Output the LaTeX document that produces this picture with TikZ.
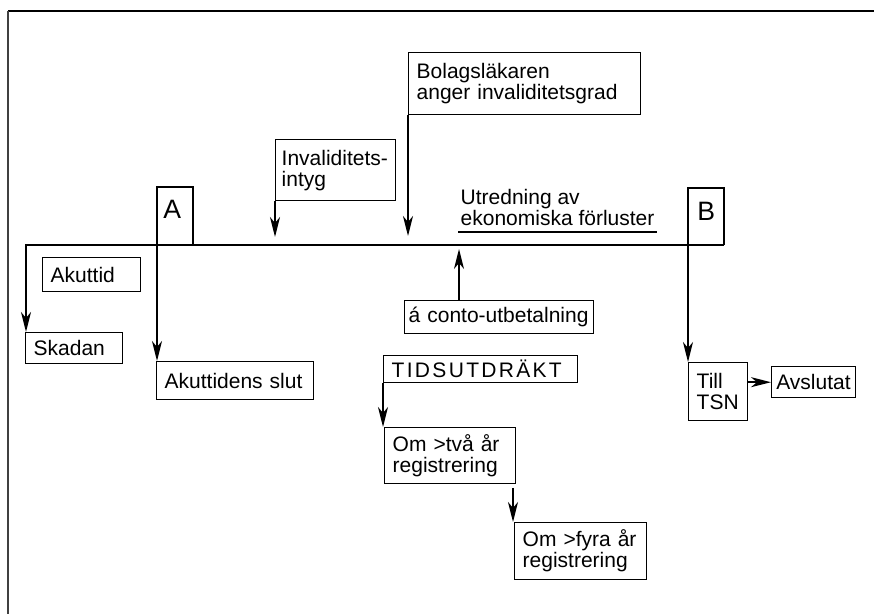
\documentclass[tikz,border=0pt]{standalone}
\usepackage{fontspec}
\setmainfont{Liberation Sans}
\newfontfamily\spaced[LetterSpace=11]{Liberation Sans}
\usetikzlibrary{arrows.meta}

\begin{document}
\begin{tikzpicture}[x=0.5pt, y=-0.5pt,
	box/.style = {draw, line width=0.7pt, anchor=north west, align=left, inner xsep=4pt, inner ysep=1pt, font=\fontsize{10.5}{10.5}\selectfont},
	tab/.style = {anchor=north west, inner sep=0pt, font=\fontsize{13.3}{14}\selectfont},
	arr/.style = {line width=0.8pt, -{Stealth[length=10pt, width=5pt, inset=3pt]}}]
	\useasboundingbox (0,0) rectangle (874,614);
	\draw[line width=1pt] (874,11) -- (8,11);
	\draw[line width=1.4pt, black!75] (8,11) -- (8,614);
	\node[box, text width=40.5pt, minimum height=15.5pt] (1) at (25,332) {Skadan};
	\node[box, text width=41pt, minimum height=17pt] (2) at (42,257) {Akuttid};
	\node[box, text width=70.5pt, minimum height=19pt] (3) at (156,361) {Akuttidens slut};
	\node[box, inner xsep=3pt, text width=54pt, minimum height=30.5pt] (4) at (275,139) {Invaliditets-\\intyg};
	\node[box, text width=108pt, minimum height=31pt] (5) at (408,52) {Bolagsläkaren\\anger invaliditetsgrad};
	\node[box, inner xsep=2pt, text width=90.5pt, minimum height=16.5pt] (6) at (404,300) {á conto-utbetalning};
	\node[box, text width=89pt, minimum height=13.5pt, font=\fontsize{10.5}{10.5}\spaced] (7) at (383,355) {TIDSUTDRÄKT};
	\node[box, text width=57.5pt, minimum height=28pt] (8) at (384,427) {Om >två år\\registrering};
	\node[box, text width=58pt, minimum height=28.5pt] (9) at (514,522) {Om >fyra år\\registrering};
	\node[box, text width=21.5pt, minimum height=29pt] (10) at (688,362) {Till\\TSN};
	\node[box, inner xsep=2.3pt, text width=37.4pt, minimum height=15.5pt] (11) at (771,366) {Avslutat};
	\node[box, draw=none, anchor=south west, inner xsep=1pt, inner ysep=3pt] (12) at (458,232) {Utredning av\\ekonomiska förluster};
	\node[tab] (13) at (163,200) {A};
	\node[tab] (14) at (697,202) {B};
	\coordinate (c1) at (724,245);
	\coordinate (c2) at (26,245);
	\coordinate (c3) at (193,245);
	\coordinate (c4) at (157,187);
	\coordinate (c5) at (688,188);
	\coordinate (c6) at (275,237);
	\coordinate (c7) at (408,236);
	\coordinate (c8) at (459,249);
	\coordinate (c9) at (513,488);
	\draw[arr] (c1) -- (c2) -- (c2 |- 1.north);
	\draw[arr] (c3) |- (c4) -- (c4 |- 3.north);
	\draw[arr] (c1) |- (c5) -- (c5 |- 10.north);
	\draw[arr] (4.south west) -- (c6);
	\draw[arr] (5.south west) -- (c7);
	\draw[arr] (c8 |- 6.north) -- (c8);
	\draw[arr] (7.south west) -- (7.south west |- 8.north);
	\draw[arr] (c9) -- (c9 |- 9.north);
	\draw[arr] (10.east |- 11) -- (11);
	\draw[line width=0.7pt] (12.south west) -- (12.south east);
\end{tikzpicture}
\end{document}
